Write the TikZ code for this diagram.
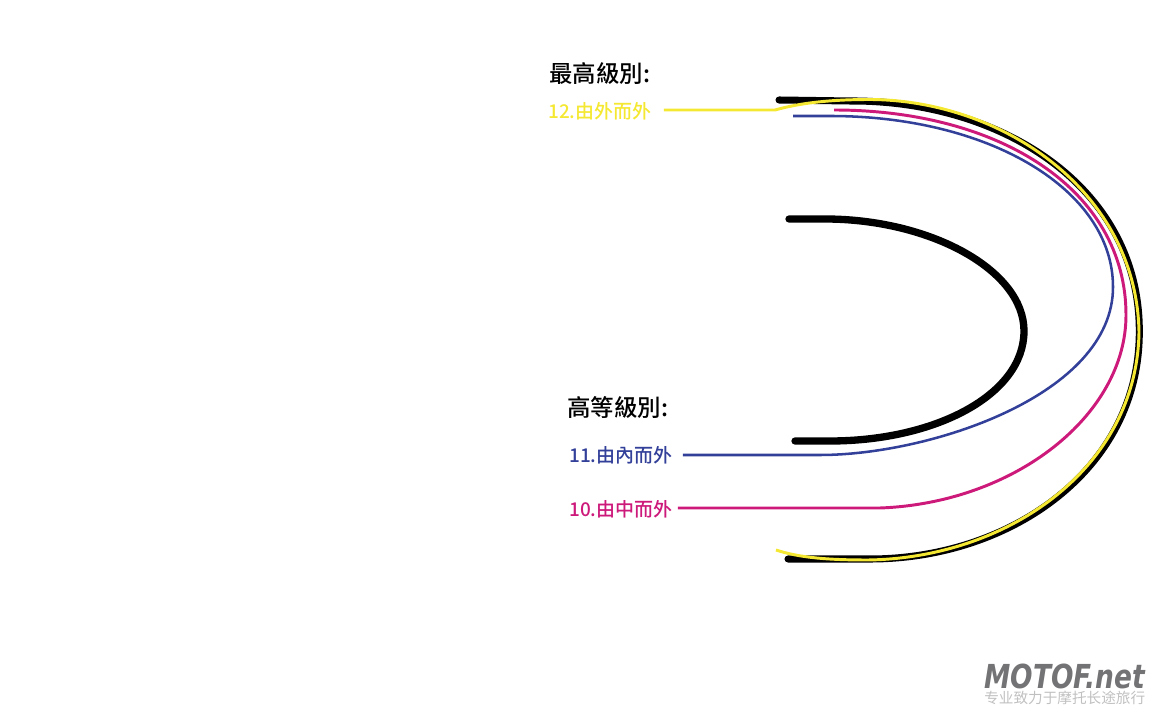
\documentclass[tikz,border=0pt]{standalone}
\usepackage{graphicx}
\usepackage{fontspec}
\setmainfont{Noto Sans}
\newfontfamily\cjk{Noto Sans CJK TC Medium}
\newfontfamily\cjksc{Noto Sans CJK SC}
\newfontfamily\logofont{DejaVu Sans}
\usetikzlibrary{positioning, calc}
\definecolor{lineyellow}{rgb}{0.96, 0.91, 0.2}
\definecolor{lineblue}{rgb}{0.2, 0.25, 0.6}
\definecolor{linepink}{rgb}{0.8, 0.1, 0.48}
\definecolor{logogray}{rgb}{0.45, 0.45, 0.46}
\begin{document}
\begin{tikzpicture}[
				x=0.025cm, y=-0.025cm,
				every node/.style={font=\cjk, inner sep=0pt, anchor=west},
				headlabel/.style={font=\cjk\fontsize{16.7}{18}\selectfont, text=black},
				linelabel/.style={font=\cjk\fontsize{13.5}{16}\selectfont},
				roadedge/.style={line width=5pt, black, line cap=round},
				yellowline/.style={line width=2.1pt, lineyellow},
				blueline/.style={line width=1.8pt, lineblue},
				pinkline/.style={line width=2.1pt, linepink}
			]
			\useasboundingbox (0,0) rectangle (1152,720);

			% Labels
			\node[headlabel] (top) at (549,74) {最高級別:};
			\node[linelabel, text=lineyellow] (twelve) at (548,111) {12.由外而外};
			\node[headlabel] (high) at (567,407) {高等級別:};
			\node[linelabel, text=lineblue] (eleven) at (569,455) {11.由內而外};
			\node[linelabel, text=linepink] (ten) at (569,509) {10.由中而外};

			% Road edges
			\coordinate (outer_a) at (779,100);
			\coordinate (outer_b) at (788,559);
			\coordinate (inner_a) at (789,219);
			\coordinate (inner_b) at (795,441);
			\draw[roadedge] (outer_a) -- (850,101)
			.. controls (1000,100) and (1140,186) .. (1139.3,332)
			.. controls (1139.3,470) and (1010,559) .. (870,559)
			-- (outer_b);
			\draw[roadedge, line width=5.2pt] (inner_a) -- (825,219)
			.. controls (930,219) and (1024,270) .. (1024,331)
			.. controls (1024,395) and (935,441) .. (830,441)
			-- (inner_b);

			% Riding lines
			\coordinate (yellow_end) at (776,550);
			\coordinate (blue_end) at (793,116);
			\coordinate (pink_end) at (834,110);
			\draw[yellowline] ($(twelve.east)+(12,-1)$) -- (775,110)
			.. controls (800,103) and (830,99.5) .. (870,99.5)
			.. controls (1002,100) and (1136.5,191) .. (1139,332)
			.. controls (1137,468) and (1008,558) .. (868,560)
			.. controls (830,560) and (800,558) .. (yellow_end);
			\draw[blueline] ($(eleven.east)+(10,0)$) -- (820,455)
			.. controls (930,455) and (1113,395) .. (1113,287)
			.. controls (1113,190) and (990,116) .. (830,116)
			-- (blue_end);
			\draw[pinkline] ($(ten.east)+(5,-1)$) -- (880,508)
			.. controls (1015,503) and (1126,415) .. (1126,315)
			.. controls (1126,190) and (1000,110) .. (pink_end);

			% Logo
			\node[font=\logofont\bfseries\itshape\fontsize{18.8}{20}\selectfont, text=logogray] (logo) at (984,676) {\scalebox{1}[1.25]{MOTOF.net}};
			\node[font=\cjksc\fontsize{10.4}{12}\selectfont, text=logogray!45, text height=7.5pt, text depth=1pt, below=3pt of logo.south west, anchor=north west] (slogan) {专业致力于摩托长途旅行};
		\end{tikzpicture}
\end{document}
